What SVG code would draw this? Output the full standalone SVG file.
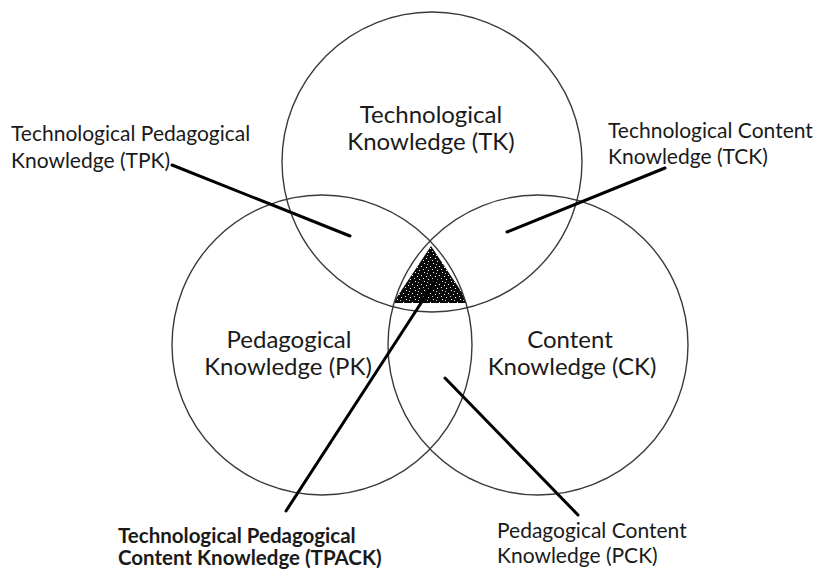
<svg xmlns="http://www.w3.org/2000/svg" width="817" height="571" viewBox="0 0 817 571">
<style>
.c{fill:none;stroke:#3a3a3a;stroke-width:1.4}
.big{font-family:Lato,"Open Sans",sans-serif;font-size:24px;fill:#1a1a1a;text-anchor:middle}
.lab{font-family:Lato,"Open Sans",sans-serif;font-size:21px;fill:#1a1a1a}
.bold{font-weight:bold;font-size:20.5px}
.ln{stroke:#000;stroke-width:3;stroke-linecap:round;fill:none}
</style>
<defs>
<clipPath id="tri"><circle cx="432" cy="162" r="150"/></clipPath>
<clipPath id="tri2"><circle cx="322" cy="345" r="150"/></clipPath>
<clipPath id="tri3"><circle cx="538" cy="345" r="150"/></clipPath>
<pattern id="stip" width="9" height="9" patternUnits="userSpaceOnUse">
<rect width="9" height="9" fill="#0a0a0a"/>
<rect x="1" y="2" width="1" height="1" fill="#fff"/>
<rect x="5" y="0" width="1" height="1" fill="#fff"/>
<rect x="7" y="5" width="1" height="1" fill="#fff"/>
<rect x="3" y="6" width="1" height="1" fill="#fff"/>
<rect x="0" y="8" width="1" height="1" fill="#ddd"/>
<rect x="4" y="3" width="1" height="1" fill="#ccc"/>
</pattern>
</defs>
<rect width="817" height="571" fill="#fff"/>
<g id="tpack-core">
<g clip-path="url(#tri)"><g clip-path="url(#tri2)"><g clip-path="url(#tri3)">
<path d="M431 246 L393 303 L469 303 Z" fill="url(#stip)"/>
</g></g></g>
</g>
<g id="tk"><circle class="c" cx="432" cy="162" r="150"/>
<text class="big" x="431" y="123">Technological</text>
<text class="big" x="431" y="150">Knowledge (TK)</text></g>
<g id="pk"><circle class="c" cx="322" cy="345" r="150"/>
<text class="big" x="289" y="348">Pedagogical</text>
<text class="big" x="288" y="375">Knowledge (PK)</text></g>
<g id="ck"><circle class="c" cx="538" cy="345" r="150"/>
<text class="big" x="570" y="348">Content</text>
<text class="big" x="572" y="375">Knowledge (CK)</text></g>
<g id="tpk"><text class="lab" x="11" y="141">Technological Pedagogical</text>
<text class="lab" x="11" y="168">Knowledge (TPK)</text></g>
<g id="tck"><text class="lab" x="608" y="138">Technological Content</text>
<text class="lab" x="608" y="164">Knowledge (TCK)</text></g>
<g id="tpack"><text class="lab bold" x="118" y="543">Technological Pedagogical</text>
<text class="lab bold" x="118" y="565">Content Knowledge (TPACK)</text></g>
<g id="pck"><text class="lab" x="497" y="538">Pedagogical Content</text>
<text class="lab" x="497" y="563">Knowledge (PCK)</text></g>
<g id="connectors">
<line class="ln" x1="172" y1="165" x2="350" y2="236"/>
<line class="ln" x1="665" y1="168" x2="507" y2="232"/>
<line class="ln" x1="286" y1="511" x2="436" y2="280"/>
<line class="ln" x1="445" y1="378" x2="578" y2="515"/>
</g>
</svg>
